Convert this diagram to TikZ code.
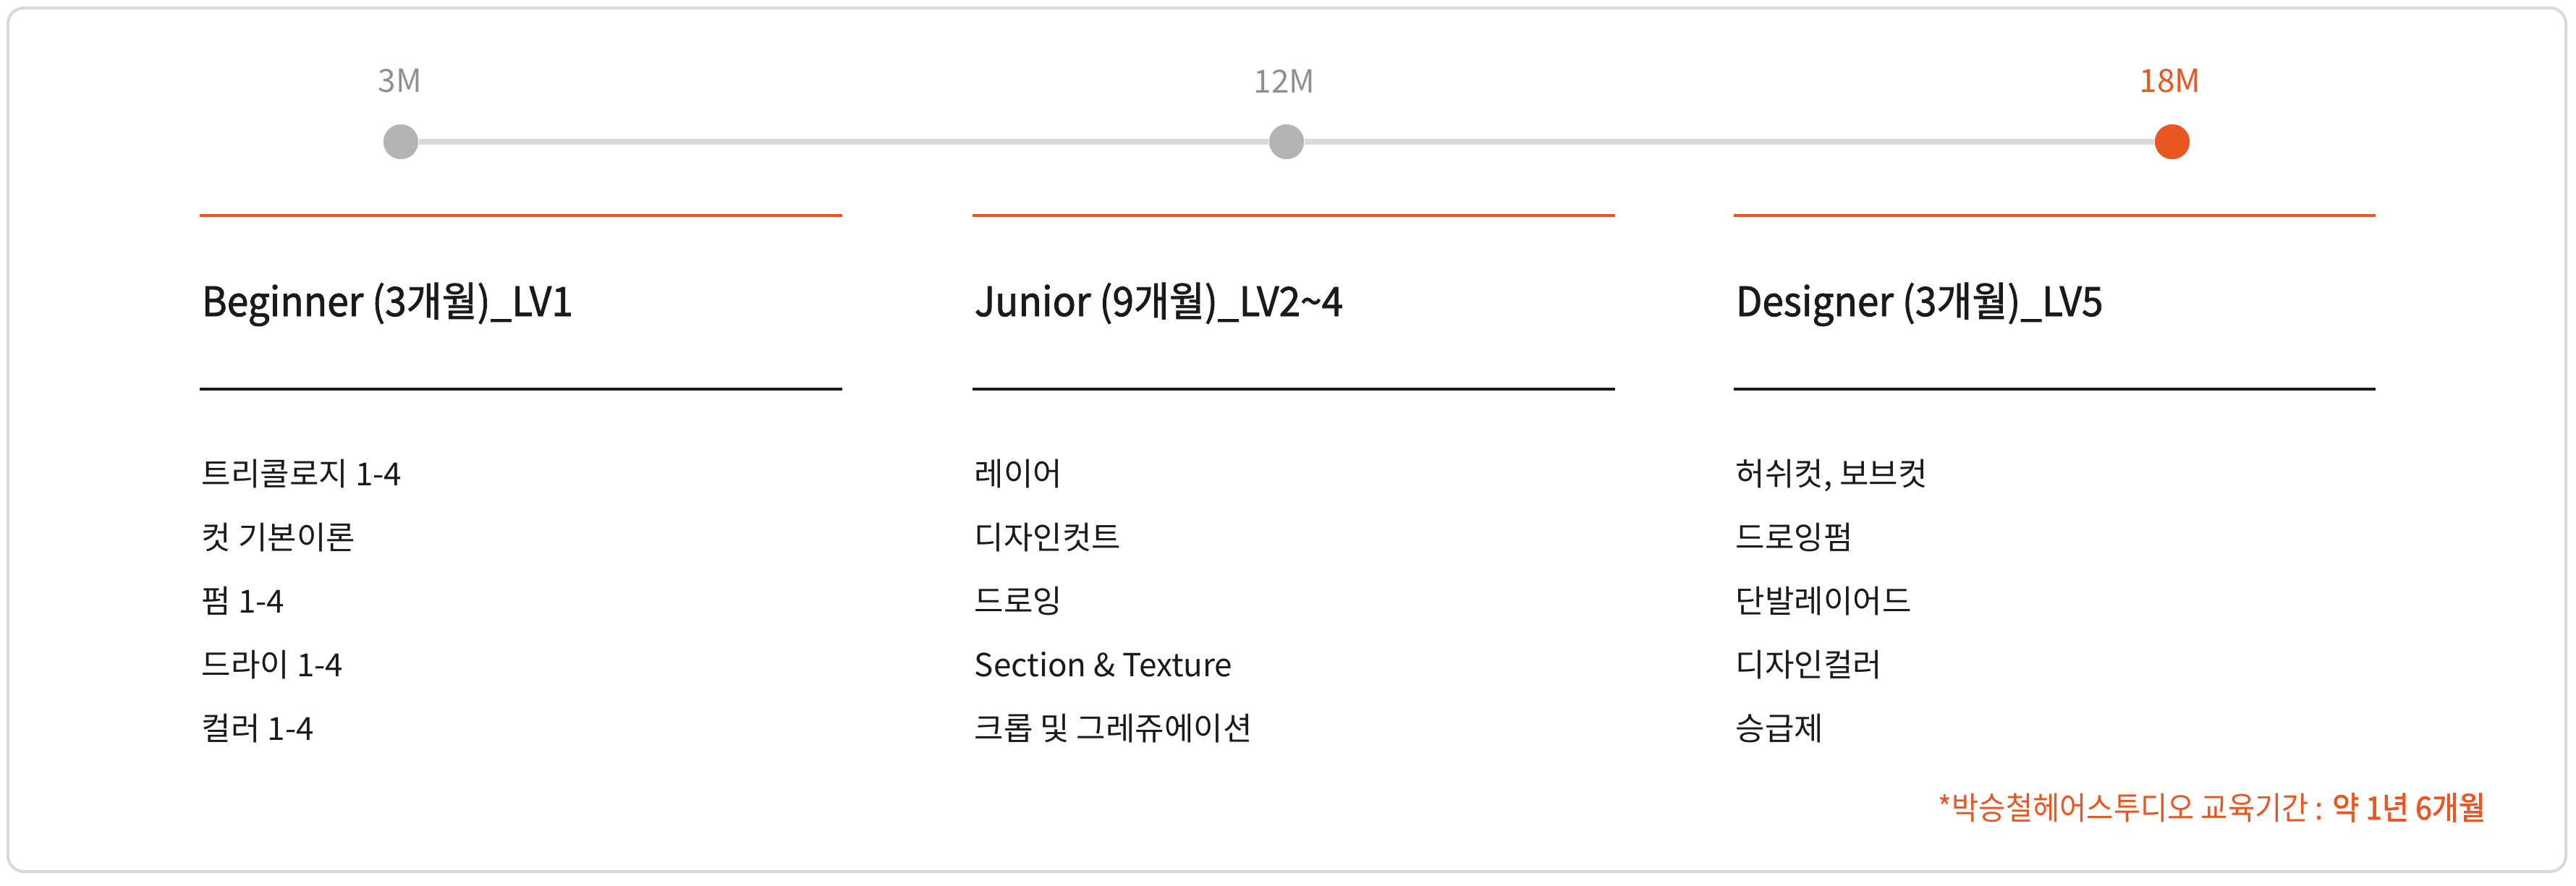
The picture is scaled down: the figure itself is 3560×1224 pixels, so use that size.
\documentclass[tikz,border=0pt]{standalone}
\usepackage{fontspec}
\setmainfont{Noto Sans CJK KR}
\newfontfamily\hdfont[FakeBold=1.5,FakeStretch=0.95]{Noto Sans CJK KR}
\newfontfamily\notefont[FakeStretch=0.92]{Noto Sans CJK KR}
\newfontfamily\bdfont[FakeBold=1.8,FakeStretch=0.92]{Noto Sans CJK KR}
\definecolor{accent}{HTML}{EA5520}
\definecolor{framegray}{HTML}{D9D9D9}
\definecolor{dotgray}{HTML}{B4B4B4}
\definecolor{labelgray}{HTML}{8F8F8F}
\definecolor{ink}{HTML}{1A1A1A}
\tikzset{
  frame/.style={draw=framegray, line width=1pt, rounded corners=5.5pt},
  track/.style={draw=framegray, line width=2pt},
  dot/.style={circle, fill=dotgray, minimum size=12pt, inner sep=0pt},
  hotdot/.style={circle, fill=accent, minimum size=12pt, inner sep=0pt},
  mlabel/.style={text=labelgray, font=\fontsize{11}{13}\selectfont, inner sep=0pt},
  hotlabel/.style={text=accent, font=\fontsize{11}{13}\selectfont, inner sep=0pt},
  topline/.style={draw=accent, line width=1pt},
  midline/.style={draw=ink, line width=1pt},
  heading/.style={anchor=base west, inner sep=0pt, text=ink, font=\hdfont\fontsize{14}{16}\selectfont},
  item/.style={anchor=base west, inner sep=0pt, text=ink, font=\fontsize{11}{13}\selectfont},
  note/.style={anchor=base east, inner sep=0pt, text=accent, font=\notefont\fontsize{11}{13}\selectfont}
}
\begin{document}
\begin{tikzpicture}[x=0.25pt, y=-0.25pt]
\useasboundingbox (0,0) rectangle (3560,1224);
\draw[frame] (11,11) rectangle (3546,1205);
% timeline
\node[dot] (d1) at (554,196) {};
\node[dot] (d2) at (1778,196) {};
\node[hotdot] (d3) at (3002,196) {};
\draw[track] (d1) -- (d2);
\draw[track] (d2) -- (d3);
\node[dot] at (d1) {};
\node[dot] at (d2) {};
\node[hotdot] at (d3) {};
\node[mlabel] (l1) at (553,112) {3M};
\node[mlabel] (l2) at (1775,112) {12M};
\node[hotlabel] (l3) at (2999,112) {18M};
% column 1
\coordinate (a1) at (276,298); \coordinate (a2) at (1164,298);
\draw[topline] (a1) -- (a2);
\node[heading] (h1) at (278,437) {Beginner (3개월)\_LV1};
\coordinate (b1) at (276,538); \coordinate (b2) at (1164,538);
\draw[midline] (b1) -- (b2);
\node[item] (i11) at (278,671) {트리콜로지 1-4};
\node[item] (i12) at (278,759) {컷 기본이론};
\node[item] (i13) at (278,847) {펌 1-4};
\node[item] (i14) at (278,935) {드라이 1-4};
\node[item] (i15) at (278,1023) {컬러 1-4};
% column 2
\coordinate (a3) at (1344,298); \coordinate (a4) at (2232,298);
\draw[topline] (a3) -- (a4);
\node[heading] (h2) at (1346,437) {Junior (9개월)\_LV2\textasciitilde 4};
\coordinate (b3) at (1344,538); \coordinate (b4) at (2232,538);
\draw[midline] (b3) -- (b4);
\node[item] (i21) at (1346,671) {레이어};
\node[item] (i22) at (1346,759) {디자인컷트};
\node[item] (i23) at (1346,847) {드로잉};
\node[item] (i24) at (1346,935) {Section \& Texture};
\node[item] (i25) at (1346,1023) {크롭 및 그레쥬에이션};
% column 3
\coordinate (a5) at (2396,298); \coordinate (a6) at (3283,298);
\draw[topline] (a5) -- (a6);
\node[heading] (h3) at (2398,437) {Designer (3개월)\_LV5};
\coordinate (b5) at (2396,538); \coordinate (b6) at (3283,538);
\draw[midline] (b5) -- (b6);
\node[item] (i31) at (2398,671) {허쉬컷, 보브컷};
\node[item] (i32) at (2398,759) {드로잉펌};
\node[item] (i33) at (2398,847) {단발레이어드};
\node[item] (i34) at (2398,935) {디자인컬러};
\node[item] (i35) at (2398,1023) {승급제};
% footnote
\node[note] (fn) at (3436,1133) {*박승철헤어스투디오 교육기간 : {\bdfont 약 1년 6개월}};
\end{tikzpicture}
\end{document}
